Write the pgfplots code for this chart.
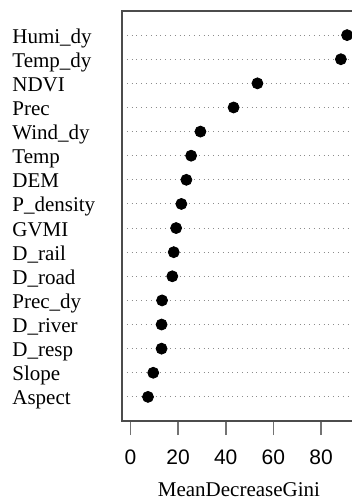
\documentclass[border=0pt]{standalone}
\usepackage{fontspec}
\setmainfont{Liberation Serif}
\newfontfamily\arialfont{Liberation Sans}
\usepackage{pgfplots}
\pgfplotsset{compat=1.18}
\begin{document}
\begin{tikzpicture}
\begin{axis}[
  scale only axis,
  width=116.95pt, height=205pt,
  xmin=-3.5, xmax=94.6, ymin=0, ymax=17,
  axis line style={draw=black!70, line width=0.6pt},
  xtick={0,20,40,60,80},
  xtick pos=bottom,
  tick align=outside,
  major tick length=7pt,
  xtick style={black!55, line width=0.8pt},
  ytick={1,...,16},
  ytick style={draw=none},
  yticklabels={Aspect,Slope,D\_resp,D\_river,Prec\_dy,D\_road,D\_rail,GVMI,P\_density,DEM,Temp,Wind\_dy,Prec,NDVI,Temp\_dy,Humi\_dy},
  yticklabel style={font=\fontsize{10.5}{12}\selectfont, anchor=base west, inner sep=0pt, xshift=-48pt, yshift=-0.4em},
  xticklabel style={font=\arialfont\fontsize{10.5}{12}\selectfont, anchor=base, inner sep=0pt, yshift=-14.5pt, /pgf/number format/assume math mode=true},
  ymajorgrids,
  grid style={dotted, black!45, line width=0.5pt},
  xlabel={MeanDecreaseGini},
  xlabel style={font=\fontsize{10.5}{12}\selectfont, at={(axis description cs:0.5,0)}, anchor=base, inner sep=0pt, yshift=-37.5pt},
  clip=false,
]
\addplot[only marks, mark=*, mark size=2.75pt, black] coordinates {
  (7.4,1) (9.6,2) (13.1,3) (13.1,4) (13.3,5) (17.6,6) (18.2,7) (19.2,8)
  (21.4,9) (23.5,10) (25.5,11) (29.4,12) (43.3,13) (53.3,14) (88.3,15) (90.9,16)
};
\coordinate (bl) at (rel axis cs:0,0);
\end{axis}
\pgfresetboundingbox
\path[use as bounding box] ([xshift=-61pt,yshift=-38.5pt]bl) rectangle ([xshift=115pt,yshift=210.5pt]bl);
\end{tikzpicture}
\end{document}
